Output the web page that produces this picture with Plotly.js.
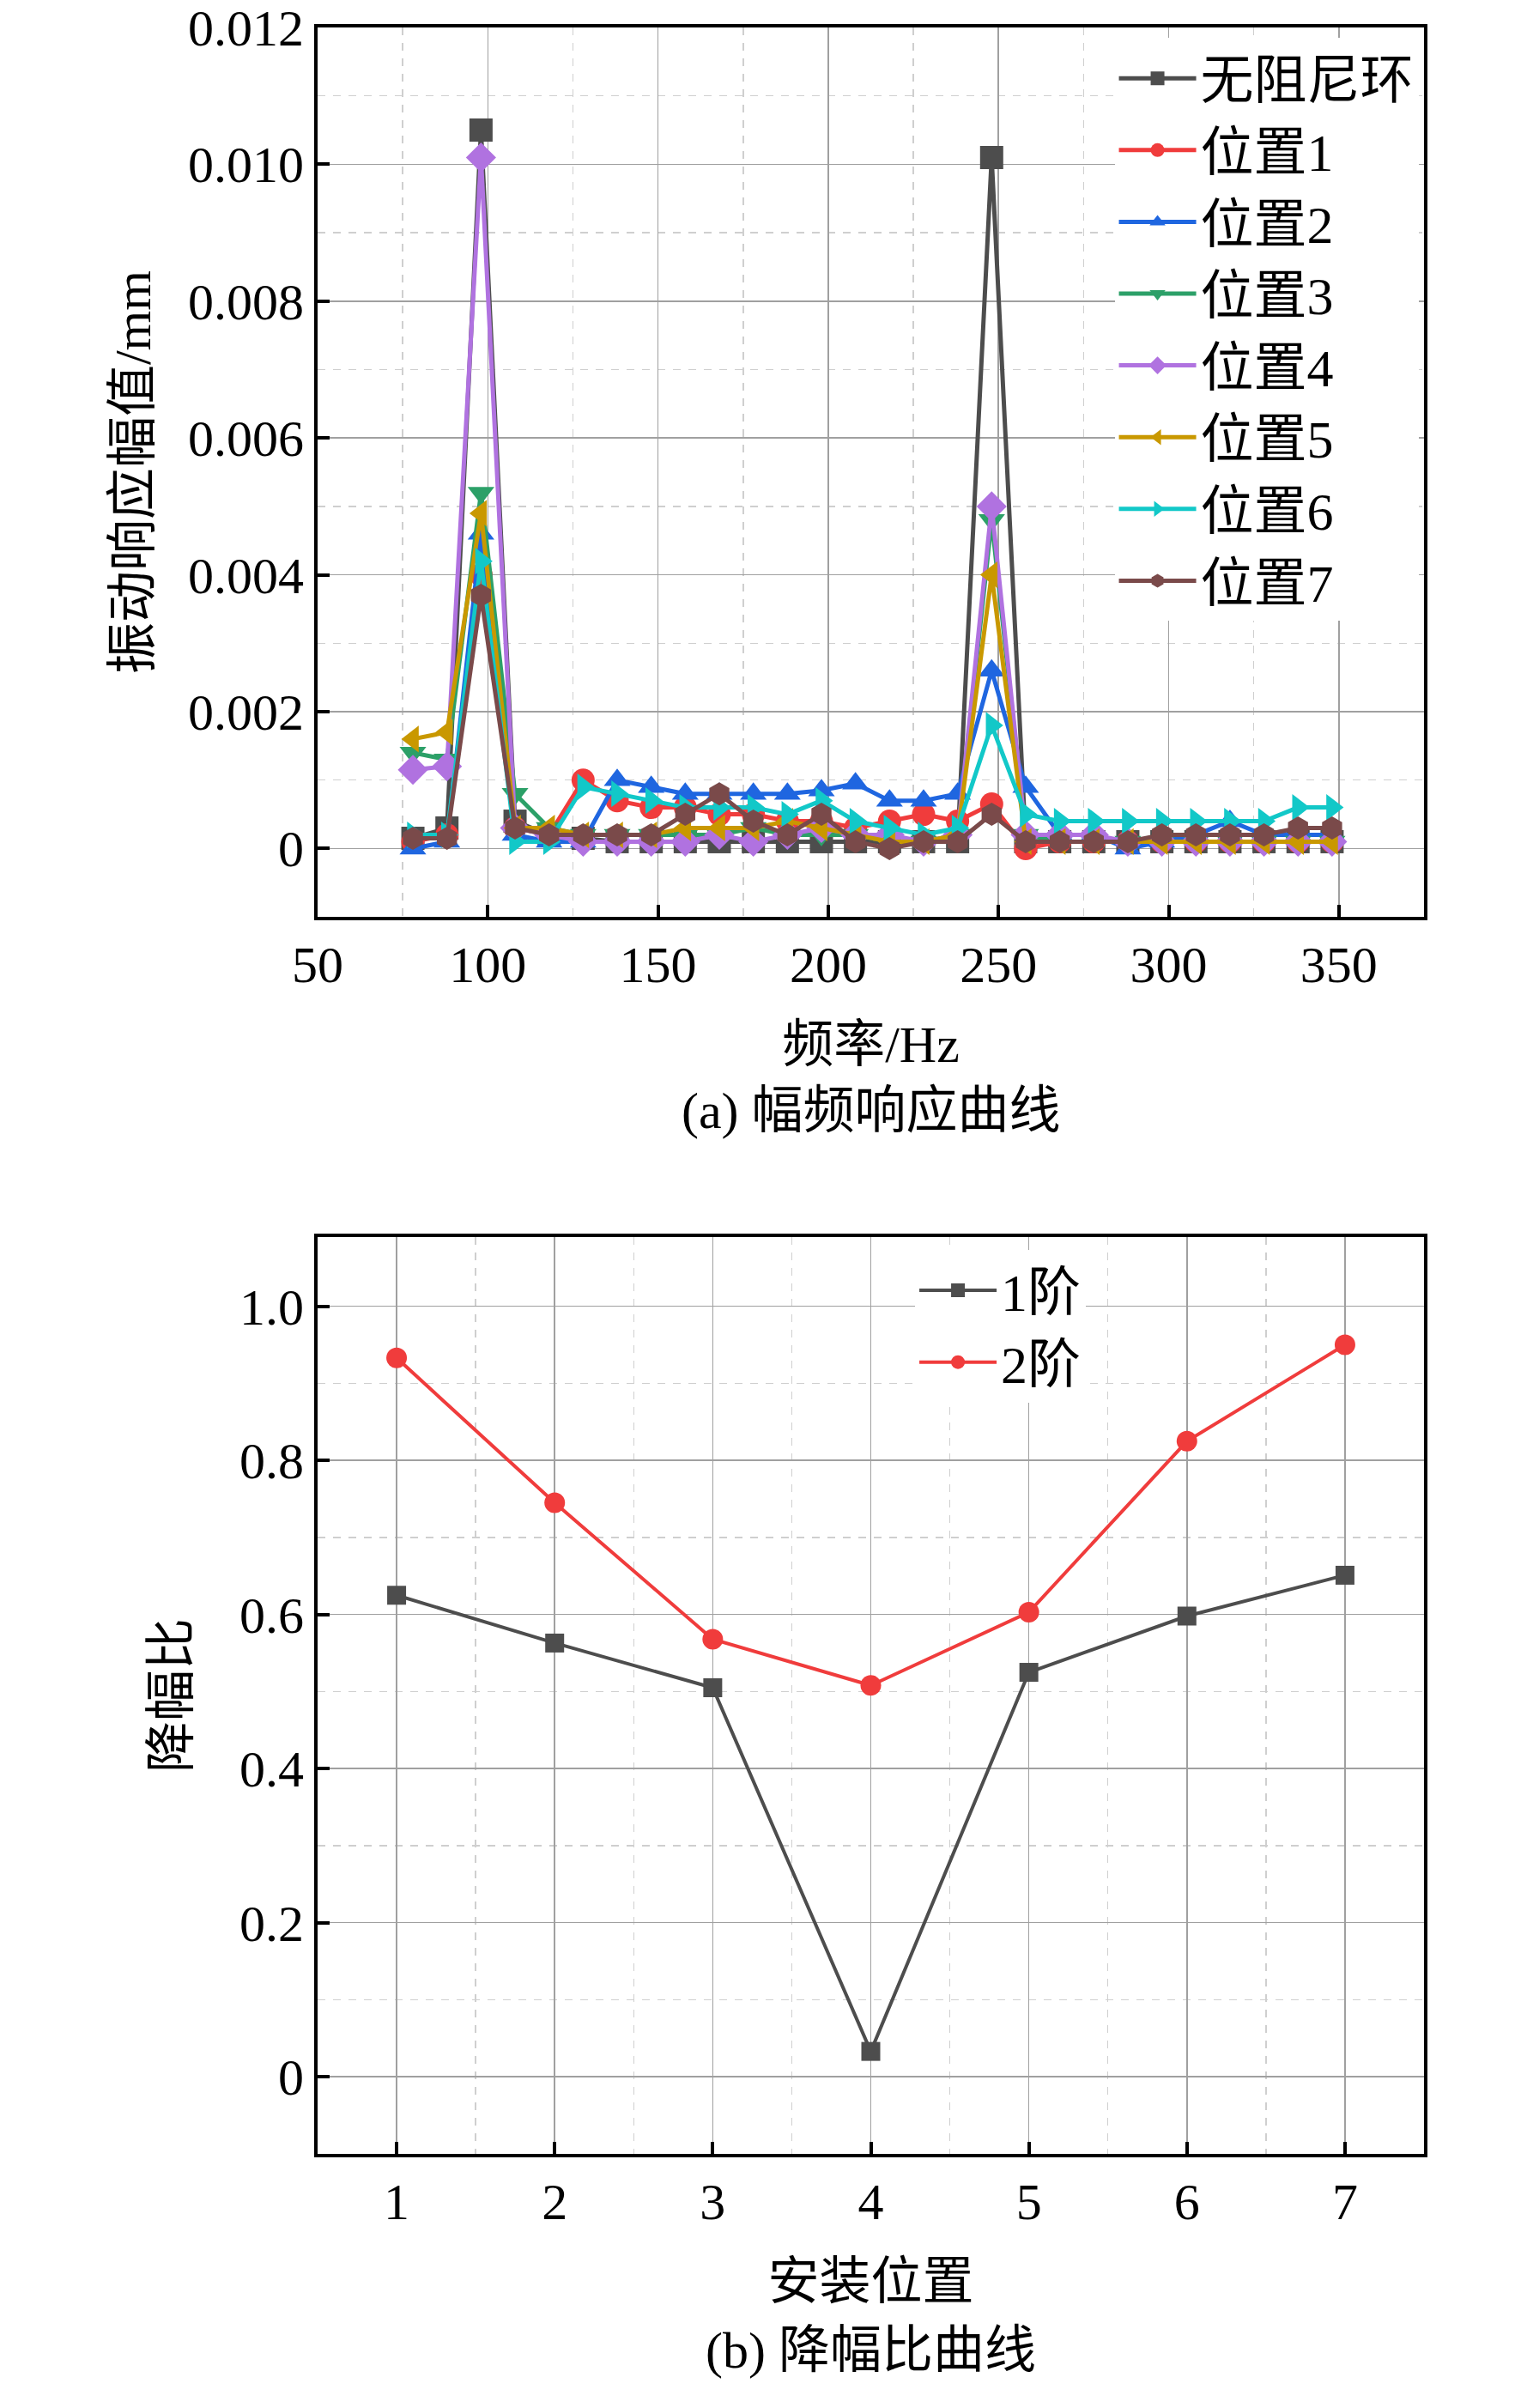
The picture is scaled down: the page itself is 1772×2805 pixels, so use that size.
<!doctype html>
<html lang="zh">
<head>
    <meta charset="UTF-8">
    <title>幅频响应曲线 / 降幅比曲线</title>
    <script src="https://cdn.plot.ly/plotly-3.0.1.min.js"></script>
    <style>
        body { margin: 0; background: white; }
        #chart { width: 1772px; height: 2805px; }
    </style>
</head>
<body>
<div id="chart"></div>
<script>
    // frequency axis (Hz)
    var freq = [78, 88, 98, 108, 118, 128, 138, 148, 158, 168, 178, 188, 198, 208,
                218, 228, 238, 248, 258, 268, 278, 288, 298, 308, 318, 328, 338, 348];

    var seriesNames = ['无阻尼环', '位置1', '位置2', '位置3', '位置4', '位置5', '位置6', '位置7'];

    var noRing = [0.00015, 0.0003, 0.0105, 0.0004, 0.0002, 0.00015, 0.0001, 0.0001, 0.0001, 0.0001, 0.0001, 0.0001, 0.0001, 0.0001,
                  0.0001, 0.0001, 0.0001, 0.0101, 0.0001, 0.0001, 0.0001, 0.0001, 0.0001, 0.0001, 0.0001, 0.0001, 0.0001, 0.0001];
    var pos1 = [0.0001, 0.0002, 0.0040, 0.0003, 0.0002, 0.0010, 0.0007, 0.0006, 0.0006, 0.0005, 0.0005, 0.0004, 0.0004, 0.0003,
                0.0004, 0.0005, 0.0004, 0.00065, 0.0000, 0.0001, 0.0001, 0.0001, 0.0001, 0.0001, 0.0001, 0.0001, 0.0001, 0.0001];
    var pos2 = [0.0000, 0.0001, 0.0046, 0.0002, 0.0001, 0.0001, 0.0010, 0.0009, 0.0008, 0.0008, 0.0008, 0.0008, 0.00085, 0.00095,
                0.0007, 0.0007, 0.0008, 0.0026, 0.0009, 0.0002, 0.0002, 0.0000, 0.0001, 0.0002, 0.0004, 0.0002, 0.0002, 0.0002];
    var pos3 = [0.0014, 0.0013, 0.0052, 0.0008, 0.0003, 0.0002, 0.0002, 0.0002, 0.0002, 0.0002, 0.0003, 0.0002, 0.0002, 0.0002,
                0.0001, 0.0001, 0.0002, 0.0048, 0.0002, 0.0001, 0.0001, 0.0001, 0.0001, 0.0001, 0.0001, 0.0001, 0.0001, 0.0001];
    var pos4 = [0.00115, 0.0012, 0.0101, 0.0003, 0.0002, 0.0001, 0.0001, 0.0001, 0.0001, 0.0002, 0.0001, 0.0002, 0.0003, 0.0002,
                0.0002, 0.0001, 0.0002, 0.0050, 0.0002, 0.0002, 0.0002, 0.0001, 0.0001, 0.0001, 0.0001, 0.0001, 0.0001, 0.0001];
    var pos5 = [0.0016, 0.0017, 0.0049, 0.0003, 0.0003, 0.0002, 0.0002, 0.0002, 0.0003, 0.0003, 0.0003, 0.0004, 0.0003, 0.0002,
                0.0001, 0.0001, 0.0002, 0.0040, 0.0001, 0.0001, 0.0001, 0.0001, 0.0001, 0.0001, 0.0001, 0.0001, 0.0001, 0.0001];
    var pos6 = [0.0002, 0.0002, 0.0042, 0.0001, 0.0001, 0.0009, 0.0008, 0.0007, 0.0006, 0.0006, 0.0006, 0.0005, 0.0007, 0.0004,
                0.0003, 0.0002, 0.0003, 0.0018, 0.0005, 0.0004, 0.0004, 0.0004, 0.0004, 0.0004, 0.0004, 0.0004, 0.0006, 0.0006];
    var pos7 = [0.00015, 0.00015, 0.0037, 0.0003, 0.0002, 0.0002, 0.0002, 0.0002, 0.0005, 0.0008, 0.0004, 0.0002, 0.0005, 0.0001,
                0.0000, 0.0001, 0.0001, 0.0005, 0.0001, 0.0001, 0.0001, 0.0001, 0.0002, 0.0002, 0.0002, 0.0002, 0.0003, 0.0003];

    // reduction ratio per install position
    var positions = [1, 2, 3, 4, 5, 6, 7];
    var order1 = [0.625, 0.563, 0.505, 0.033, 0.525, 0.598, 0.651];
    var order2 = [0.933, 0.745, 0.568, 0.508, 0.603, 0.825, 0.950];

    var topTickVals = [0, 0.002, 0.004, 0.006, 0.008, 0.010, 0.012];
    var topTickText = ['0', '0.002', '0.004', '0.006', '0.008', '0.010', '0.012'];
    var botTickVals = [0, 0.2, 0.4, 0.6, 0.8, 1.0];
    var botTickText = ['0', '0.2', '0.4', '0.6', '0.8', '1.0'];

    var colors = ['#4d4d4d', '#f03c3c', '#1f66e0', '#2ca068', '#b072e0', '#c99800', '#12c8c8', '#7a4a4a'];
    var symbols = ['square', 'circle', 'triangle-up', 'triangle-down', 'diamond', 'triangle-left', 'triangle-right', 'hexagon'];
    var allSeries = [noRing, pos1, pos2, pos3, pos4, pos5, pos6, pos7];

    var FONT = 'Liberation Serif, Times New Roman, Noto Sans CJK SC, serif';

    var traces = allSeries.map(function (ys, i) {
        return {
            x: freq, y: ys, name: seriesNames[i], mode: 'lines+markers', type: 'scatter',
            xaxis: 'x', yaxis: 'y', legend: 'legend',
            line: { color: colors[i], width: 5 },
            marker: { color: colors[i], symbol: symbols[i], size: 27 }
        };
    });

    traces.push({
        x: positions, y: order1, name: '1阶', mode: 'lines+markers', xaxis: 'x2', yaxis: 'y2', legend: 'legend2',
        line: { color: '#4d4d4d', width: 4 }, marker: { color: '#4d4d4d', symbol: 'square', size: 22 }
    });
    traces.push({
        x: positions, y: order2, name: '2阶', mode: 'lines+markers', xaxis: 'x2', yaxis: 'y2', legend: 'legend2',
        line: { color: '#f03c3c', width: 4 }, marker: { color: '#f03c3c', symbol: 'circle', size: 24 }
    });

    function axisBase(extra) {
        var a = {
            showline: true, linecolor: 'black', linewidth: 4, mirror: true,
            ticks: 'inside', ticklen: 14, tickwidth: 4, tickcolor: 'black',
            showgrid: true, gridcolor: '#a0a0a0', gridwidth: 1.5, zeroline: false,
            tickfont: { family: FONT, size: 60, color: 'black' }
        };
        for (var k in extra) a[k] = extra[k];
        return a;
    }

    var titleFont = { family: FONT, size: 60, color: 'black' };

    var layout = {
        width: 1772, height: 2805,
        margin: { l: 370, r: 113, t: 32, b: 296 },
        paper_bgcolor: 'white', plot_bgcolor: 'white',
        font: { family: FONT, color: 'black' },
        xaxis: axisBase({
            domain: [0, 1], anchor: 'y', range: [50, 375], tickvals: [50, 100, 150, 200, 250, 300, 350],
            minor: { dtick: 25, tick0: 25, showgrid: true, griddash: 'dash', gridcolor: '#cfcfcf', gridwidth: 1.5, ticks: '' },
            title: { text: '频率/Hz', standoff: 40, font: titleFont }
        }),
        yaxis: axisBase({
            domain: [0.5817, 1], anchor: 'x', range: [-0.001, 0.012],
            tickvals: topTickVals, ticktext: topTickText,
            minor: { dtick: 0.001, showgrid: true, griddash: 'dash', gridcolor: '#cfcfcf', gridwidth: 1.5, ticks: '' },
            title: { text: '振动响应幅值/mm', standoff: 25, font: titleFont }
        }),
        xaxis2: axisBase({
            domain: [0, 1], anchor: 'y2', range: [0.5, 7.5], tickvals: positions,
            minor: { dtick: 0.5, tick0: 0.5, showgrid: true, griddash: 'dash', gridcolor: '#cfcfcf', gridwidth: 1.5, ticks: '' },
            title: { text: '安装位置', standoff: 40, font: titleFont }
        }),
        yaxis2: axisBase({
            domain: [0, 0.4312], anchor: 'x2', range: [-0.1, 1.09],
            tickvals: botTickVals, ticktext: botTickText,
            minor: { dtick: 0.1, showgrid: true, griddash: 'dash', gridcolor: '#cfcfcf', gridwidth: 1.5, ticks: '' },
            title: { text: '降幅比', standoff: 40, font: titleFont }
        }),
        legend: {
            x: 0.995, y: 0.995, xanchor: 'right', yanchor: 'top', bgcolor: 'white',
            font: { family: FONT, size: 62, color: 'black' }, tracegroupgap: 0, itemwidth: 90
        },
        legend2: {
            x: 0.54, y: 0.425, xanchor: 'left', yanchor: 'top', bgcolor: 'white',
            font: { family: FONT, size: 62, color: 'black' }, tracegroupgap: 0, itemwidth: 90
        },
        annotations: [
            { text: '(a) 幅频响应曲线', xref: 'paper', yref: 'paper', x: 0.5, xanchor: 'center',
              y: 1 - (1294 - 32) / 2477, yanchor: 'middle', showarrow: false,
              font: { family: FONT, size: 60, color: 'black' } },
            { text: '(b) 降幅比曲线', xref: 'paper', yref: 'paper', x: 0.5, xanchor: 'center',
              y: 1 - (2738 - 32) / 2477, yanchor: 'middle', showarrow: false,
              font: { family: FONT, size: 60, color: 'black' } }
        ]
    };

    Plotly.newPlot('chart', traces, layout, { displayModeBar: false, staticPlot: true });
</script>
</body>
</html>
